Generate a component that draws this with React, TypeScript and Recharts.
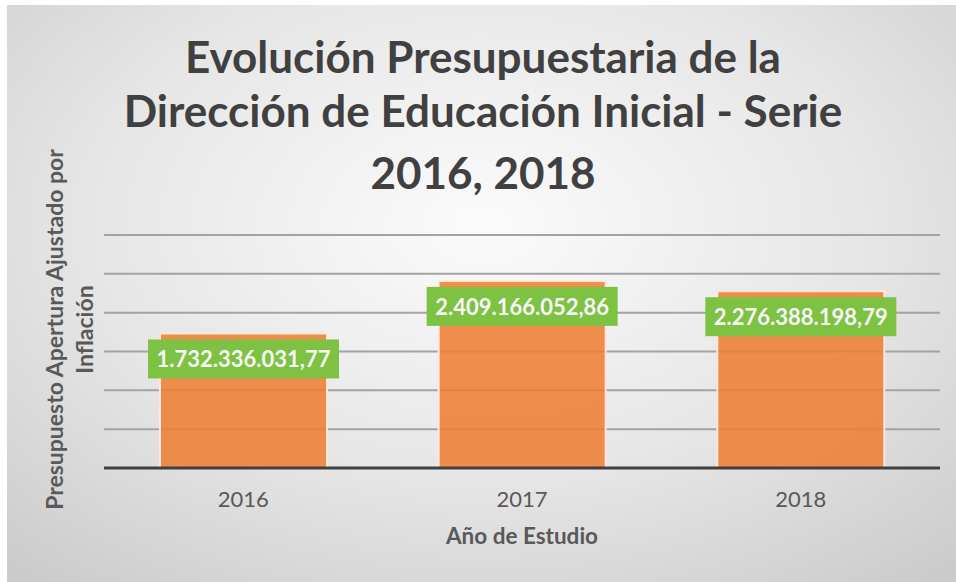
import React from 'react';
import { BarChart, Bar, XAxis, YAxis, CartesianGrid, LabelList, Label } from 'recharts';

const categories = ['2016', '2017', '2018'];
const budget = [1732336031.77, 2409166052.86, 2276388198.79];
const yTicks = [0, 500000000, 1000000000, 1500000000, 2000000000, 2500000000, 3000000000];

const titleLines = [
  'Evolución Presupuestaria de la',
  'Dirección de Educación Inicial - Serie',
  '2016, 2018',
];
const yTitleLines = ['Presupuesto Apertura Ajustado por', 'Inflación'];
const xTitle = 'Año de Estudio';

const data = categories.map((year, i) => ({ year, value: budget[i] }));

const FONT = 'Lato, "Open Sans", sans-serif';

// 1732336031.77 -> 1.732.336.031,77
const fmt = (v: number) => {
  const [int, dec] = v.toFixed(2).split('.');
  return int.replace(/\B(?=(\d{3})+(?!\d))/g, '.') + ',' + dec;
};

const ValueBox = (props: any) => {
  const { x, y, width, value } = props;
  const cx = x + width / 2;
  const top = y + 6;
  return (
    <g>
      <rect x={cx - 95.5} y={top} width={191} height={39} fill="#7dc242" />
      <text
        x={cx}
        y={top + 28}
        textAnchor="middle"
        fill="#f7f7f7"
        fontFamily={FONT}
        fontWeight={700}
        fontSize={22}
      >
        {fmt(value)}
      </text>
    </g>
  );
};

const YearTick = (props: any) => {
  const { x, y, payload } = props;
  return (
    <text x={x} y={y + 39} textAnchor="middle" fill="#595959" fontFamily={FONT} fontSize={22}>
      {payload.value}
    </text>
  );
};

const NoTick = () => <g />;

const YTitle = (props: any) => {
  const { viewBox } = props;
  const cy = viewBox.y + viewBox.height / 2 - 22;
  return (
    <g>
      {yTitleLines.map((line, i) => (
        <text
          key={i}
          transform={`translate(${viewBox.x + 19 + i * 30}, ${cy}) rotate(-90)`}
          textAnchor="middle"
          fill="#595959"
          fontFamily={FONT}
          fontWeight={700}
          fontSize={23}
        >
          {line}
        </text>
      ))}
    </g>
  );
};

export default function App() {
  return (
    <div style={{ position: 'absolute', left: 0, top: 0, width: 956, height: 582, background: '#ffffff' }}>
      <div
        style={{
          position: 'absolute',
          left: 7,
          top: 5,
          right: 0,
          bottom: 0,
          background: 'radial-gradient(ellipse 75% 80% at 50% 38%, #fbfbfb 0%, #e6e6e6 55%, #cbcbcb 100%)',
        }}
      />
      <div style={{ position: 'absolute', left: 0, top: 0 }}>
        <BarChart
          width={956}
          height={582}
          data={data}
          margin={{ top: 235, right: 16, left: 44, bottom: 84 }}
        >
          <CartesianGrid horizontal vertical={false} stroke="#a3a3a3" strokeWidth={2} />
          <XAxis
            dataKey="year"
            height={30}
            tickLine={false}
            tickSize={0}
            tickMargin={0}
            axisLine={{ stroke: '#404040', strokeWidth: 3 }}
            tick={<YearTick />}
          >
            <Label
              value={xTitle}
              position="bottom"
              offset={30}
              fill="#595959"
              fontFamily={FONT}
              fontWeight={700}
              fontSize={22.5}
            />
          </XAxis>
          <YAxis
            width={60}
            domain={[0, 3000000000]}
            ticks={yTicks}
            interval={0}
            tick={<NoTick />}
            tickLine={false}
            axisLine={false}
          >
            <Label content={<YTitle />} />
          </YAxis>
          <Bar
            dataKey="value"
            barSize={167}
            fill="#ed7d31"
            fillOpacity={0.86}
            stroke="#fde9da"
            strokeWidth={2}
            isAnimationActive={false}
          >
            <LabelList dataKey="value" content={<ValueBox />} />
          </Bar>
        </BarChart>
      </div>
      <svg
        width={956}
        height={230}
        style={{ position: 'absolute', left: 0, top: 0, pointerEvents: 'none' }}
      >
        {titleLines.map((line, i) => (
          <text
            key={i}
            x={483}
            y={[73, 127, 189][i]}
            textAnchor="middle"
            fill="#404040"
            fontFamily={FONT}
            fontWeight={700}
            fontSize={44}
          >
            {line}
          </text>
        ))}
      </svg>
    </div>
  );
}
